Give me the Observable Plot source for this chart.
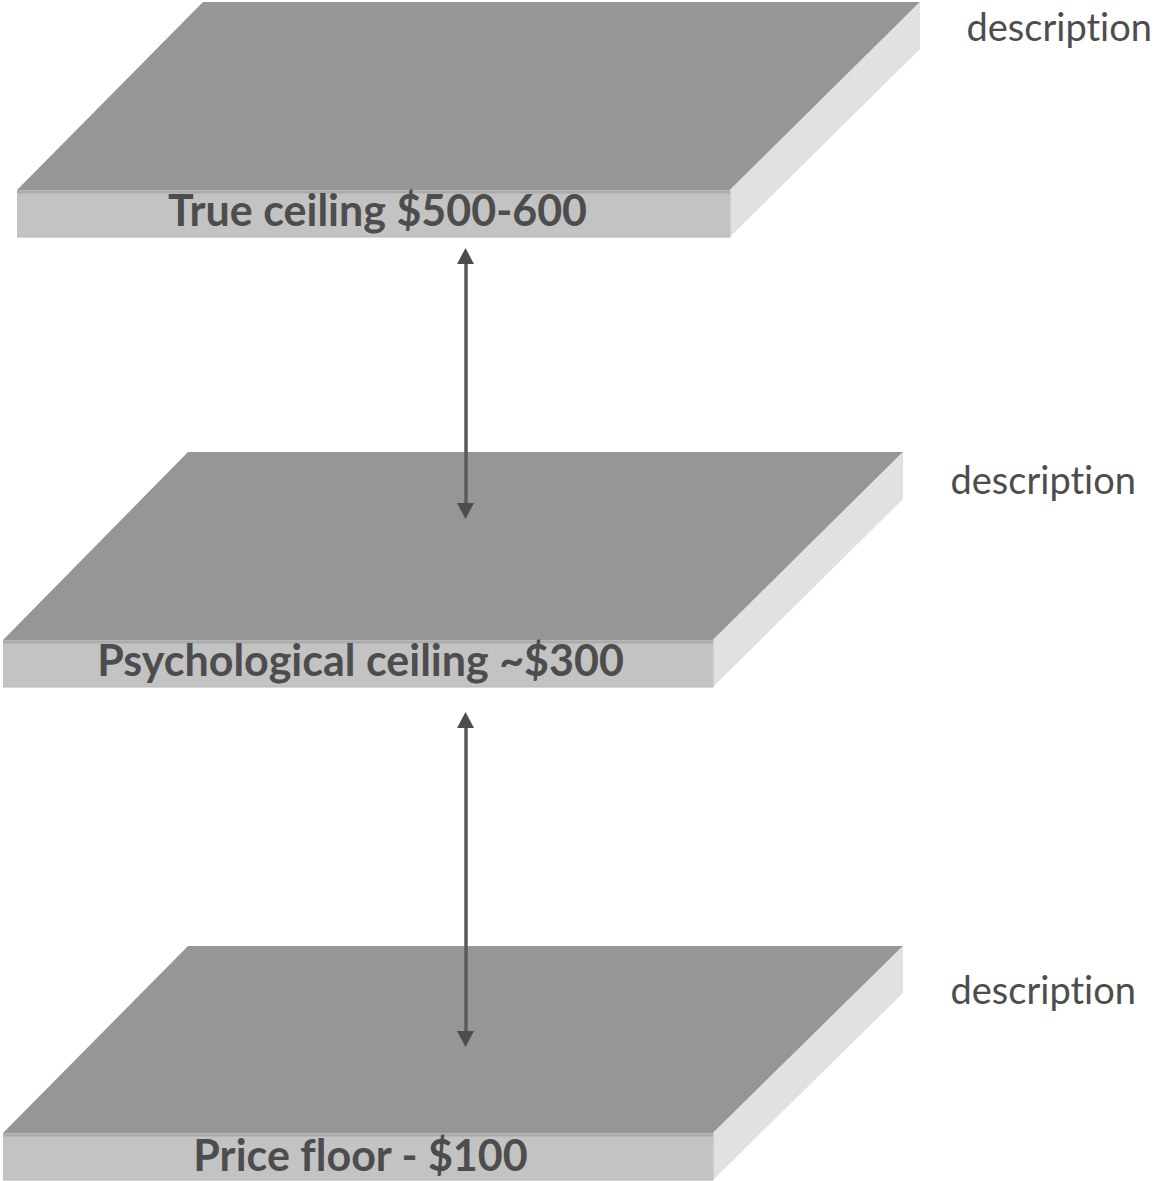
<!DOCTYPE html>
<html>
<head>
<meta charset="utf-8">
<script src="https://cdn.jsdelivr.net/npm/d3@7"></script>
<script src="https://cdn.jsdelivr.net/npm/@observablehq/plot@0.6"></script>
<style>
  html, body { margin: 0; padding: 0; background: #ffffff; overflow: hidden; }
  svg text { font-variant-ligatures: none; font-feature-settings: "liga" 0, "clig" 0; }
</style>
</head>
<body>
<div id="chart"></div>
<script>
// ---- data: three price levels drawn as slabs ----
const slabLabels = ["True ceiling $500-600", "Psychological ceiling ~$300", "Price floor - $100"];
const slabDescriptions = ["description", "description", "description"];

// slab geometry (chart units = pixels of the 1157x1181 canvas)
const slabFrontLeft   = [17, 3, 3];
const slabFrontRight  = [730, 713, 713];
const slabBackLeft    = [203, 188, 188];
const slabBackRight   = [920, 903, 903];
const slabBackY       = [2, 452, 946];
const slabFrontTopY   = [190, 640, 1133];
const slabFrontBotY   = [237, 687, 1180];

const labelX          = [377, 360, 360];
const labelBaseline   = [225, 675, 1170];
const descX           = [966, 950, 950];
const descBaseline    = [40, 493, 1003];

// double-headed arrows between levels
const arrowX      = [465.5, 465.5];
const arrowTop    = [248, 712];
const arrowBottom = [519, 1047];

// ---- build tables ----
const idx = d3.range(slabLabels.length);
const topFaces = idx.flatMap(i => [
  {z: i, y: slabBackY[i], x1: slabBackLeft[i], x2: slabBackRight[i]},
  {z: i, y: slabFrontTopY[i], x1: slabFrontLeft[i], x2: slabFrontRight[i]}
]);
const sideFaces = idx.flatMap(i => [
  {z: i, x: slabFrontRight[i], y1: slabFrontTopY[i], y2: slabFrontBotY[i]},
  {z: i, x: slabBackRight[i], y1: slabBackY[i], y2: slabBackY[i] + (slabFrontBotY[i] - slabFrontTopY[i])}
]);
const fronts = idx.map(i => ({
  x1: slabFrontLeft[i], x2: slabFrontRight[i], y1: slabFrontTopY[i], y2: slabFrontBotY[i]
}));
const labels = idx.map(i => ({x: labelX[i], y: labelBaseline[i], text: slabLabels[i]}));
const descs = idx.map(i => ({x: descX[i], y: descBaseline[i], text: slabDescriptions[i]}));

const HEAD_H = 16, HEAD_W = 8.5;
const arrows = arrowX.map((x, i) => ({x, y1: arrowTop[i] + HEAD_H - 2, y2: arrowBottom[i] - HEAD_H + 2}));
const heads = arrowX.flatMap((x, i) => [
  {z: `u${i}`, y: arrowTop[i], x1: x, x2: x},
  {z: `u${i}`, y: arrowTop[i] + HEAD_H, x1: x - HEAD_W, x2: x + HEAD_W},
  {z: `d${i}`, y: arrowBottom[i] - HEAD_H, x1: x - HEAD_W, x2: x + HEAD_W},
  {z: `d${i}`, y: arrowBottom[i], x1: x, x2: x}
]);

const W = 1157, H = 1181;
const chart = Plot.plot({
  width: W,
  height: H,
  margin: 0,
  x: {domain: [0, W], range: [0, W], axis: null},
  y: {domain: [0, H], range: [0, H], axis: null},
  style: {background: "#ffffff", fontFamily: "Lato, 'Open Sans', sans-serif"},
  marks: [
    // top faces
    Plot.areaX(topFaces, {y: "y", x1: "x1", x2: "x2", z: "z", fill: "#969696", curve: "linear"}),
    // right side faces
    Plot.areaY(sideFaces, {x: "x", y1: "y1", y2: "y2", z: "z", fill: "#e1e1e1", curve: "linear"}),
    Plot.ruleX(fronts, {x: "x2", y1: "y1", y2: "y2", stroke: "#d2d2d2", strokeWidth: 1.5}),
    // front faces
    Plot.rect(fronts, {x1: "x1", x2: "x2", y1: "y1", y2: "y2", fill: "#c3c3c3"}),
    Plot.ruleY(fronts, {y: d => d.y1 + 1.5, x1: "x1", x2: "x2", stroke: "#ababab", strokeWidth: 3}),
    Plot.ruleY(fronts, {y: d => d.y2 - 0.5, x1: "x1", x2: "x2", stroke: "#b4b4b4", strokeWidth: 1}),
    // arrows
    Plot.ruleX(arrows, {x: "x", y1: "y1", y2: "y2", stroke: "#5a5a5a", strokeWidth: 3.5}),
    Plot.areaX(heads, {y: "y", x1: "x1", x2: "x2", z: "z", fill: "#4d4d4d", curve: "linear"}),
    // labels
    Plot.text(labels, {x: "x", y: "y", text: "text", textAnchor: "middle", lineAnchor: "bottom",
      fontSize: 43, fontWeight: "bold", fill: "#4d4d4d", fontFamily: "Lato"}),
    Plot.text(descs, {x: "x", y: "y", text: "text", textAnchor: "start", lineAnchor: "bottom",
      fontSize: 38, fill: "#4d4d4d", fontFamily: "Lato"})
  ]
});
document.getElementById("chart").appendChild(chart);
</script>
</body>
</html>
